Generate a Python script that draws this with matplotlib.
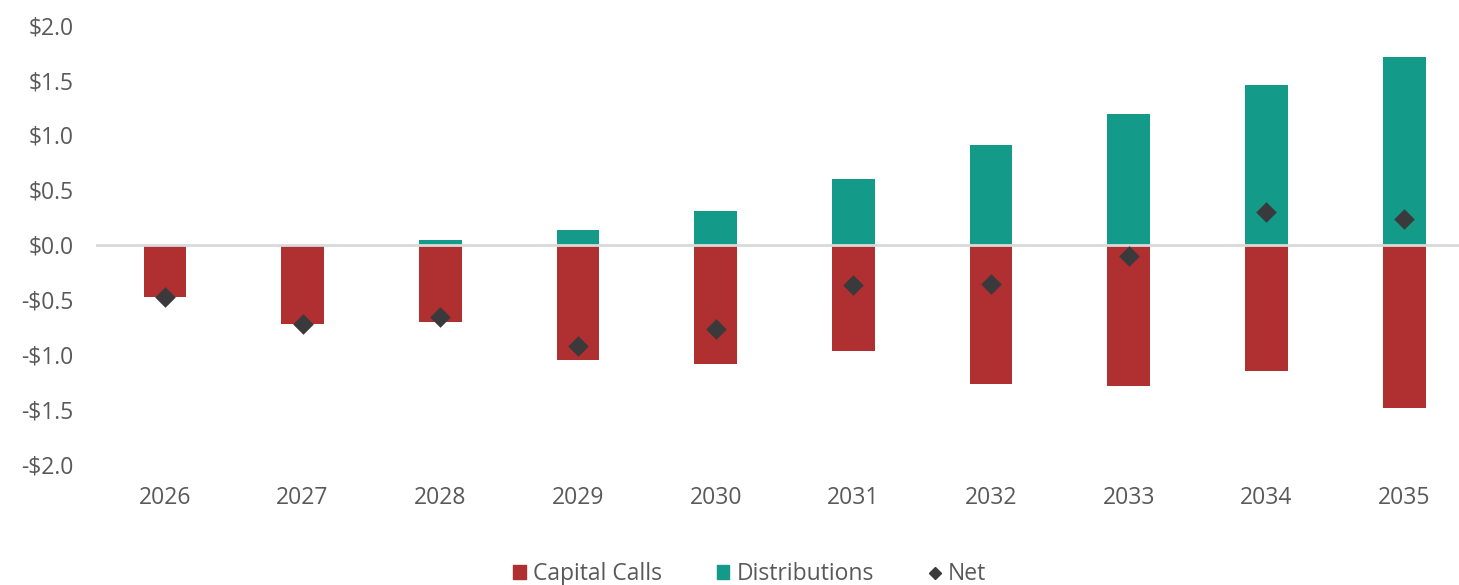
import numpy as np
import matplotlib.pyplot as plt
from matplotlib.patches import Patch
from matplotlib.lines import Line2D

plt.rcParams['font.family'] = ['Open Sans', 'DejaVu Sans']

# -------------------- data --------------------
years = ["2026", "2027", "2028", "2029", "2030", "2031", "2032", "2033", "2034", "2035"]
capital_calls = [-0.48, -0.72, -0.71, -1.05, -1.09, -0.97, -1.27, -1.29, -1.15, -1.49]
distributions = [0.0, 0.0, 0.04, 0.13, 0.31, 0.60, 0.91, 1.19, 1.45, 1.71]
net = [-0.48, -0.72, -0.66, -0.92, -0.77, -0.37, -0.36, -0.10, 0.30, 0.23]

RED = "#B02F30"
TEAL = "#149A88"
DARK = "#3A3A3C"
GREY_TXT = "#595959"

fig = plt.figure(figsize=(14.59, 5.85), dpi=100)
ax = fig.add_axes([0.0658, 0.2068, 0.9342, 0.7502])

x = np.arange(len(years))
w = 0.31
ax.bar(x, capital_calls, width=w, color=RED, zorder=2)
ax.bar(x, distributions, width=w, color=TEAL, zorder=2)
ax.axhline(0, color="#D9D9D9", lw=2, zorder=3)
ax.scatter(x, net, marker="D", s=110, color=DARK, zorder=4, linewidths=0)

ax.set_ylim(-2.0, 2.0)
ax.set_xlim(-0.5, 9.398)
yt = np.arange(-2.0, 2.01, 0.5)
ax.set_yticks(yt)
ax.set_yticklabels([("-$" if v < 0 else "$") + f"{abs(v):.1f}" for v in yt])
ax.set_xticks(x)
ax.set_xticklabels(years)
ax.tick_params(axis="both", length=0, labelsize=16.5, colors=GREY_TXT)
ax.tick_params(axis="y", pad=16)
ax.tick_params(axis="x", pad=16)
for s in ax.spines.values():
    s.set_visible(False)

handles = [
    Patch(color=RED, label="Capital Calls"),
    Patch(color=TEAL, label="Distributions"),
    Line2D([], [], marker="D", color=DARK, ls="none", markersize=6.5, label="Net"),
]
leg = fig.legend(handles=handles, loc="center", bbox_to_anchor=(0.514, 0.018), ncol=3,
                 frameon=False, fontsize=16.5, handlelength=0.55, handleheight=0.55,
                 handletextpad=0.3, columnspacing=2.4, labelcolor=GREY_TXT)

fig.savefig("out.png", dpi=100)
